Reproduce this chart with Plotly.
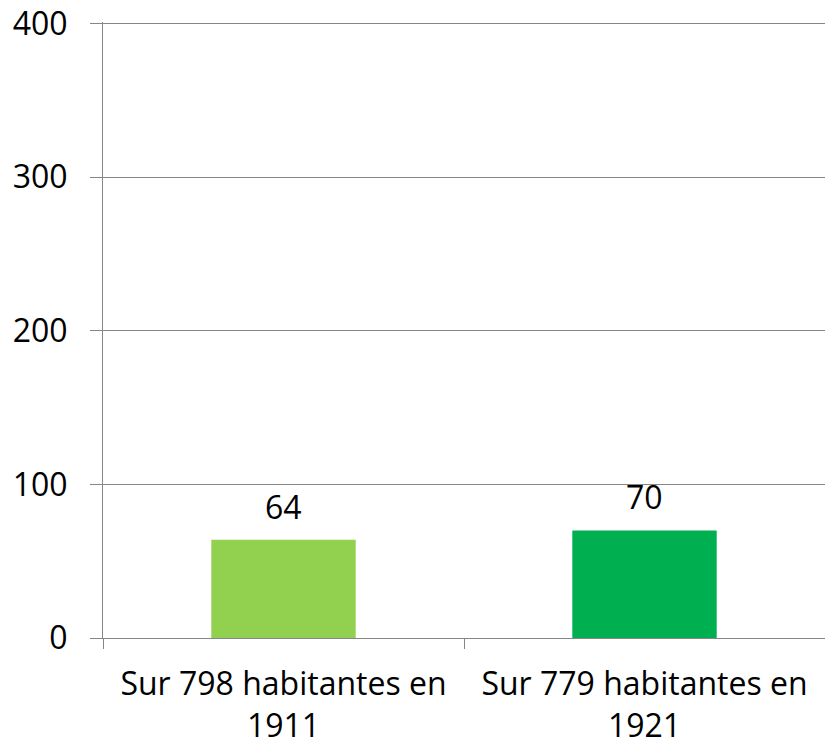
import plotly.graph_objects as go

# data
categories = ["Sur 798 habitantes en<br>1911", "Sur 779 habitantes en<br>1921"]
values = [64, 70]
bar_colors = ["#92D050", "#00B050"]
y_ticks = [0, 100, 200, 300, 400]

FAMILY = "Open Sans, Liberation Sans, sans-serif"
TICK_FONT = dict(family=FAMILY, size=32, color="#000000")
CAT_FONT = dict(family=FAMILY, size=32, color="#000000")
GRID = "#868686"

fig = go.Figure()
fig.add_trace(go.Bar(
    x=categories, y=values,
    marker=dict(color=bar_colors, line=dict(width=0)),
    width=0.40,
    showlegend=False,
))

# value labels sit a bit above the bars
for c, v in zip(categories, values):
    fig.add_annotation(x=c, y=v, text=str(v), showarrow=False,
                       yanchor="bottom", yshift=10, font=TICK_FONT)

fig.update_layout(
    width=825, height=745,
    margin=dict(l=103, r=0, t=22, b=107),
    plot_bgcolor="#FFFFFF", paper_bgcolor="#FFFFFF",
    font=TICK_FONT,
)
# range a hair past 400 so the top gridline is still drawn
fig.update_yaxes(
    range=[0, 401], tickvals=y_ticks,
    showgrid=True, gridcolor=GRID, gridwidth=1,
    showline=True, linecolor=GRID, linewidth=1,
    ticks="outside", ticklen=12, tickcolor=GRID,
    ticklabelstandoff=16, ticklabeloverflow="allow",
    zeroline=False, tickfont=TICK_FONT,
)
fig.update_xaxes(
    showline=True, linecolor=GRID, linewidth=1,
    ticks="outside", ticklen=10, tickcolor=GRID,
    tickson="boundaries", ticklabelstandoff=18,
    tickfont=CAT_FONT,
)

# drop the default 8px page margin so the figure fills the window exactly
fig.write_html("out.html", config={"displayModeBar": False},
               post_script="document.body.style.margin='0';")
